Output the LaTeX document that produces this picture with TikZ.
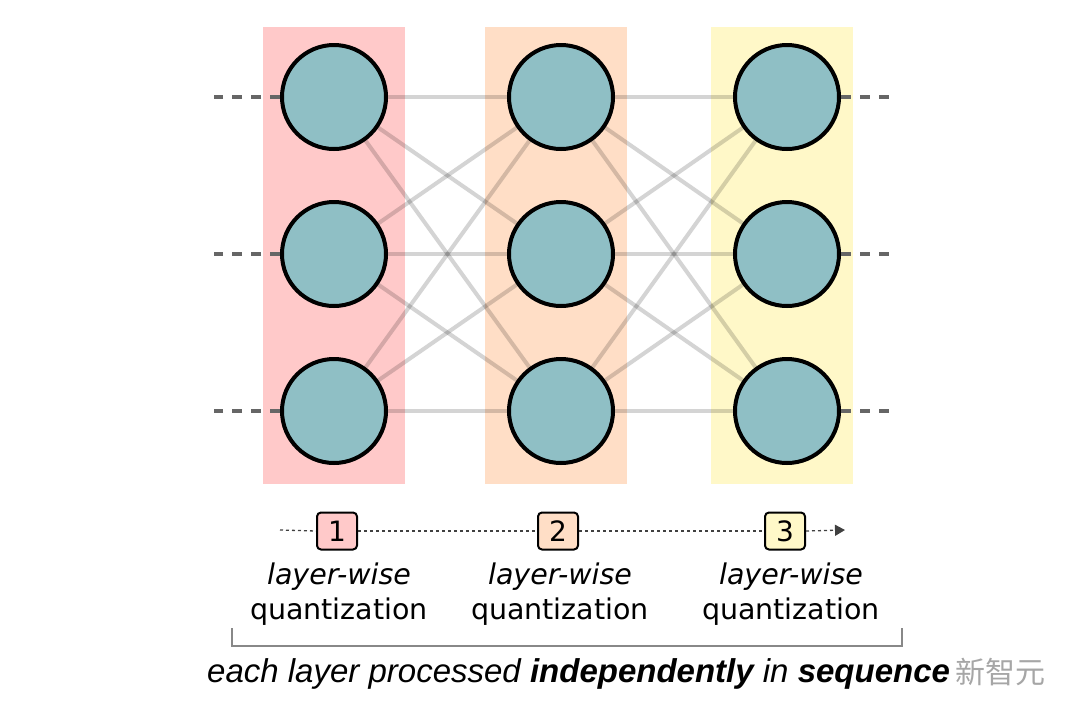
\documentclass[tikz,border=0pt]{standalone}
\usepackage{fontspec}
\setmainfont{DejaVu Sans}
\newfontfamily\bottomfont{Liberation Sans}
\newfontfamily\cjkfont{Noto Sans CJK SC}
\usetikzlibrary{arrows.meta}
\definecolor{colA}{HTML}{FFC9C9}
\definecolor{colB}{HTML}{FFDEC6}
\definecolor{colC}{HTML}{FFF8C8}
\definecolor{neuron}{HTML}{8FBFC5}
\definecolor{sidegray}{HTML}{666666}
\definecolor{brgray}{HTML}{888888}
\tikzset{
  neur/.style={circle, draw=black, line width=4pt, fill=neuron, minimum size=104pt, inner sep=0pt},
  edge/.style={line width=4pt, draw=black, draw opacity=0.17},
  side/.style={line width=4pt, draw=sidegray, dash pattern=on 10pt off 9pt},
  numbox/.style={draw=black, line width=2pt, rounded corners=4pt, minimum width=40pt, minimum height=37pt, inner sep=0pt, font=\fontsize{28}{30}\selectfont},
  lab/.style={align=center, font=\fontsize{28.5}{35}\selectfont},
  seq/.style={line width=1.3pt, draw=black!75, dash pattern=on 3pt off 3pt}
}
\begin{document}
\begin{tikzpicture}[x=1pt,y=-1pt]
\useasboundingbox (0,0) rectangle (1080,716);
% bands
\fill[colA] (263,27) rectangle (405,484);
\fill[colB] (485,27) rectangle (627,484);
\fill[colC] (711,27) rectangle (853,484);
% neuron positions
\foreach \c/\x in {1/334,2/561,3/787}{
  \foreach \r/\y in {1/97,2/254,3/411}{
    \coordinate (n\c\r) at (\x,\y);
  }
}
% edges
\foreach \r in {1,2,3}{
  \foreach \s in {1,2,3}{
    \draw[edge] (n1\r) -- (n2\s);
    \draw[edge] (n2\r) -- (n3\s);
  }
}
% neurons
\foreach \c in {1,2,3}{
  \foreach \r in {1,2,3}{
    \node[neur] (m\c\r) at (n\c\r) {};
  }
}
% side dashed lines
\foreach \r/\y in {1/97,2/254,3/411}{
  \coordinate (l\r) at (214,\y);
  \coordinate (r\r) at (890,\y);
  \draw[side] (m1\r.west) -- (l\r);
  \draw[side] (m3\r.east) -- (r\r);
}
% sequence line
\coordinate (s0) at (280,530);
\coordinate (s4) at (845,530);
\node[numbox, fill=colA] (b1) at (337,531) {1};
\node[numbox, fill=colB] (b2) at (558,531) {2};
\node[numbox, fill=colC] (b3) at (785,531) {3};
\draw[seq] (s0) -- (b1.west);
\draw[seq] (b1.east) -- (b2.west);
\draw[seq] (b2.east) -- (b3.west);
\draw[seq, -{Triangle[length=10pt,width=11pt]}] (b3.east) -- (s4);
% labels
\node[lab] (t1) at (339,594) {\textit{layer-wise}\\quantization};
\node[lab] (t2) at (560,594) {\textit{layer-wise}\\quantization};
\node[lab] (t3) at (791,594) {\textit{layer-wise}\\quantization};
% bracket
\coordinate (k1) at (232,628);
\coordinate (k2) at (232,646);
\coordinate (k3) at (902,646);
\coordinate (k4) at (902,628);
\draw[brgray, line width=2pt] (k1) -- (k2) -- (k3) -- (k4);
% bottom text
\node[font=\bottomfont\fontsize{33}{38}\selectfont, anchor=west, inner sep=0pt] (bt) at (207,674) {\textit{each layer processed \textbf{independently} in \textbf{sequence}}};
\node[font=\cjkfont\fontsize{30}{34}\selectfont, text=black!35, anchor=west, inner sep=0pt] (wm) at (955,672) {新智元};
\end{tikzpicture}
\end{document}
